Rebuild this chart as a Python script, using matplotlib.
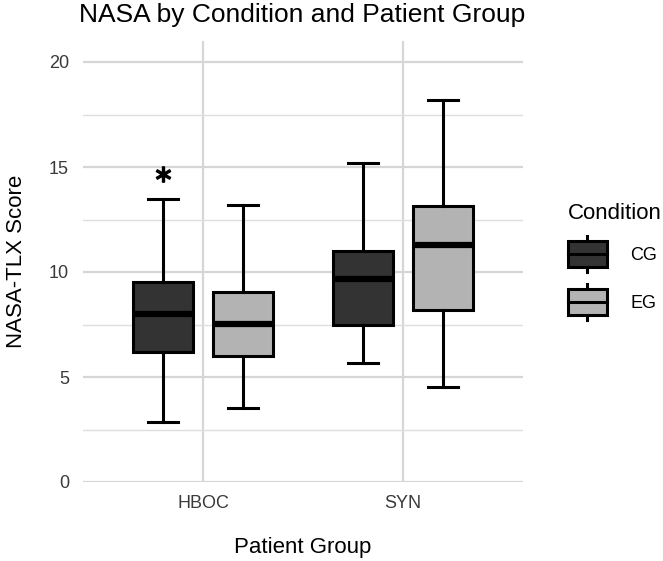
import matplotlib.pyplot as plt
from matplotlib.legend_handler import HandlerBase
from matplotlib.patches import Rectangle
from matplotlib.lines import Line2D

plt.rcParams['font.family'] = ['Liberation Sans', 'DejaVu Sans']

groups = ["HBOC", "SYN"]
conditions = ["CG", "EG"]
colors = {"CG": "#333333", "EG": "#b3b3b3"}

# five-number summaries per condition, one value per patient group
whislo = {"CG": [2.85, 5.68], "EG": [3.52, 4.52]}
q1 = {"CG": [6.2, 7.5], "EG": [6.0, 8.2]}
med = {"CG": [8.02, 9.68], "EG": [7.52, 11.28]}
q3 = {"CG": [9.52, 11.02], "EG": [9.06, 13.15]}
whishi = {"CG": [13.5, 15.17], "EG": [13.18, 18.18]}
fliers = {"CG": [[14.68], []], "EG": [[], []]}


class BoxHandler(HandlerBase):
    def create_artists(self, legend, orig_handle, xdescent, ydescent,
                       width, height, fontsize, trans):
        fc = orig_handle.get_facecolor()
        x0, y0 = -xdescent, -ydescent
        bh = height * 0.72
        by = y0 + (height - bh) / 2
        box = Rectangle((x0, by), width, bh, facecolor=fc, edgecolor="black",
                        linewidth=2.2, transform=trans)
        cx = x0 + width / 2
        w1 = Line2D([cx, cx], [y0, by], color="black", lw=2.2, transform=trans)
        w2 = Line2D([cx, cx], [by + bh, y0 + height], color="black", lw=2.2, transform=trans)
        m = Line2D([x0, x0 + width], [y0 + height / 2] * 2, color="black", lw=2.2, transform=trans)
        return [w1, w2, box, m]


fig = plt.figure(figsize=(6.63, 5.61), dpi=100)
ax = fig.add_axes([83 / 663, 79 / 561, 440 / 663, 441 / 561])

offsets = {"CG": -0.2, "EG": 0.2}
for cond in conditions:
    stats = []
    for i in range(len(groups)):
        stats.append(dict(whislo=whislo[cond][i], q1=q1[cond][i], med=med[cond][i],
                          q3=q3[cond][i], whishi=whishi[cond][i], fliers=fliers[cond][i]))
    ax.bxp(stats, positions=[i + 1 + offsets[cond] for i in range(len(groups))],
           widths=0.3, patch_artist=True,
           boxprops=dict(facecolor=colors[cond], edgecolor="black", linewidth=2.2),
           medianprops=dict(color="black", linewidth=4.5, solid_capstyle="butt"),
           whiskerprops=dict(color="black", linewidth=2.2),
           capprops=dict(color="black", linewidth=2.2),
           capwidths=0.15,
           flierprops=dict(marker="$\\ast$", markersize=11, markerfacecolor="black",
                           markeredgecolor="black", linestyle="none"),
           zorder=3)

ax.set_xlim(0.4, 2.6)
ax.set_ylim(0, 21)
ax.set_xticks([1, 2])
ax.set_xticklabels(groups)
ax.set_yticks([0, 5, 10, 15, 20])
ax.set_yticks([2.5, 7.5, 12.5, 17.5], minor=True)
ax.grid(True, which="major", color="#d6d6d6", linewidth=1.6, zorder=0)
ax.grid(True, which="minor", axis="y", color="#dedede", linewidth=1.0, zorder=0)
ax.set_axisbelow(True)
for s in ax.spines.values():
    s.set_visible(False)
ax.tick_params(which="both", length=0, labelsize=13, labelcolor="#3a3a3a")
ax.tick_params(axis="x", pad=9)
ax.tick_params(axis="y", pad=10)

ax.set_xlabel("Patient Group", fontsize=16, labelpad=18)
ax.set_ylabel("NASA-TLX Score", fontsize=16, labelpad=16)
ax.set_title("NASA by Condition and Patient Group", fontsize=19, loc="left",
             x=-0.009, pad=14)

handles = [Rectangle((0, 0), 1, 1, facecolor=colors[c]) for c in conditions]
ax.legend(handles, conditions, title="Condition", handler_map={Rectangle: BoxHandler()},
          loc="upper left", bbox_to_anchor=(568 / 663, 1 - 203 / 561),
          bbox_transform=fig.transFigure, frameon=False, borderpad=0, borderaxespad=0,
          fontsize=13, title_fontsize=16, handlelength=2.15, handleheight=2.69,
          handletextpad=1.3, labelspacing=0.67, alignment="left")

fig.savefig("out.png", dpi=100)
